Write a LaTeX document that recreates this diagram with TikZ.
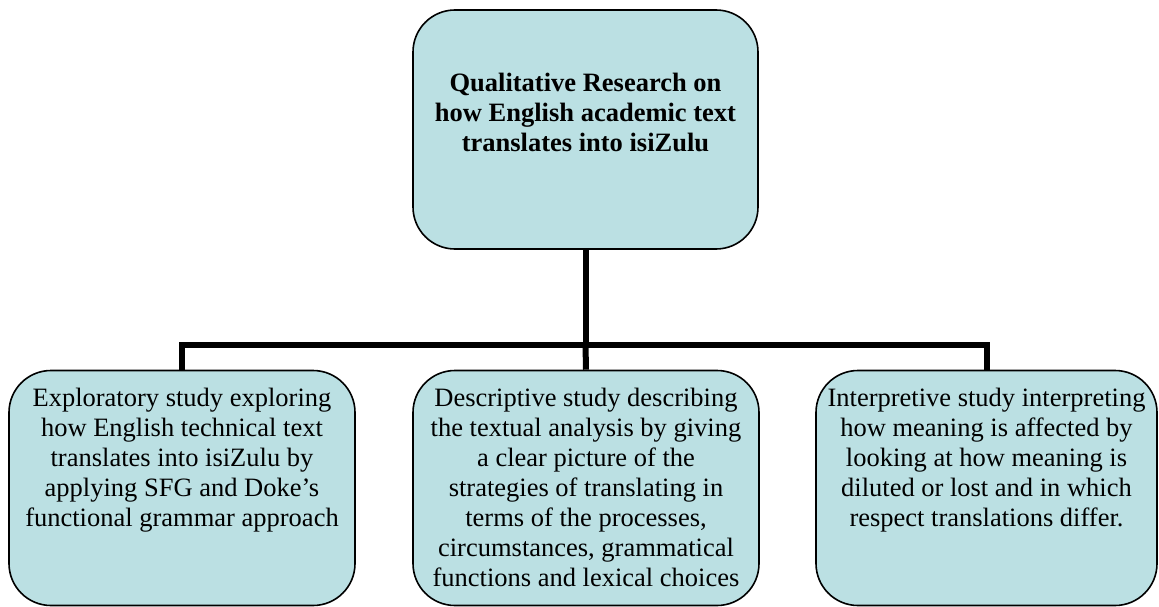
\documentclass[tikz,border=0pt]{standalone}
\usepackage{fontspec}
\setmainfont{Liberation Serif}
\definecolor{boxfill}{RGB}{187,224,227}
\begin{document}
\begin{tikzpicture}[x=1pt,y=-1pt,
  box/.style={draw=black, line width=1.6pt, fill=boxfill, rounded corners=42pt, inner sep=0pt},
  txt/.style={anchor=north, align=center, inner sep=0pt, font=\fontsize{26.5}{30}\selectfont},
  conn/.style={draw=black, line width=6pt, line join=miter, line cap=butt}]
\useasboundingbox (0,0) rectangle (1159,607);
\node[box, minimum width=345pt, minimum height=239pt] (top) at (585.5,129.5) {};
\node[box, minimum width=346pt, minimum height=235pt] (left) at (182,488) {};
\node[box, minimum width=346pt, minimum height=235pt] (mid) at (586,488) {};
\node[box, minimum width=341pt, minimum height=235pt] (right) at (986.5,488) {};
\coordinate (hub) at (585.5,345);
\draw[conn] (top.south) -- (hub);
\draw[conn] (left.north) |- (hub) -| (right.north);
\draw[conn] (hub) -- (mid.north);
\node[txt, font=\fontsize{26.5}{30}\selectfont\bfseries] (ttop) at (585.5,73) {Qualitative Research on\\how English academic text\\translates into isiZulu};
\node[txt] (tleft) at (182,388) {Exploratory study exploring\\how English technical text\\translates into isiZulu by\\applying SFG and Doke’s\\functional grammar approach};
\node[txt] (tmid) at (586,388) {Descriptive study describing\\the textual analysis by giving\\a clear picture of the\\strategies of translating in\\terms of the processes,\\circumstances, grammatical\\functions and lexical choices};
\node[txt] (tright) at (986.5,388) {Interpretive study interpreting\\how meaning is affected by\\looking at how meaning is\\diluted or lost and in which\\respect translations differ.};
\end{tikzpicture}
\end{document}
